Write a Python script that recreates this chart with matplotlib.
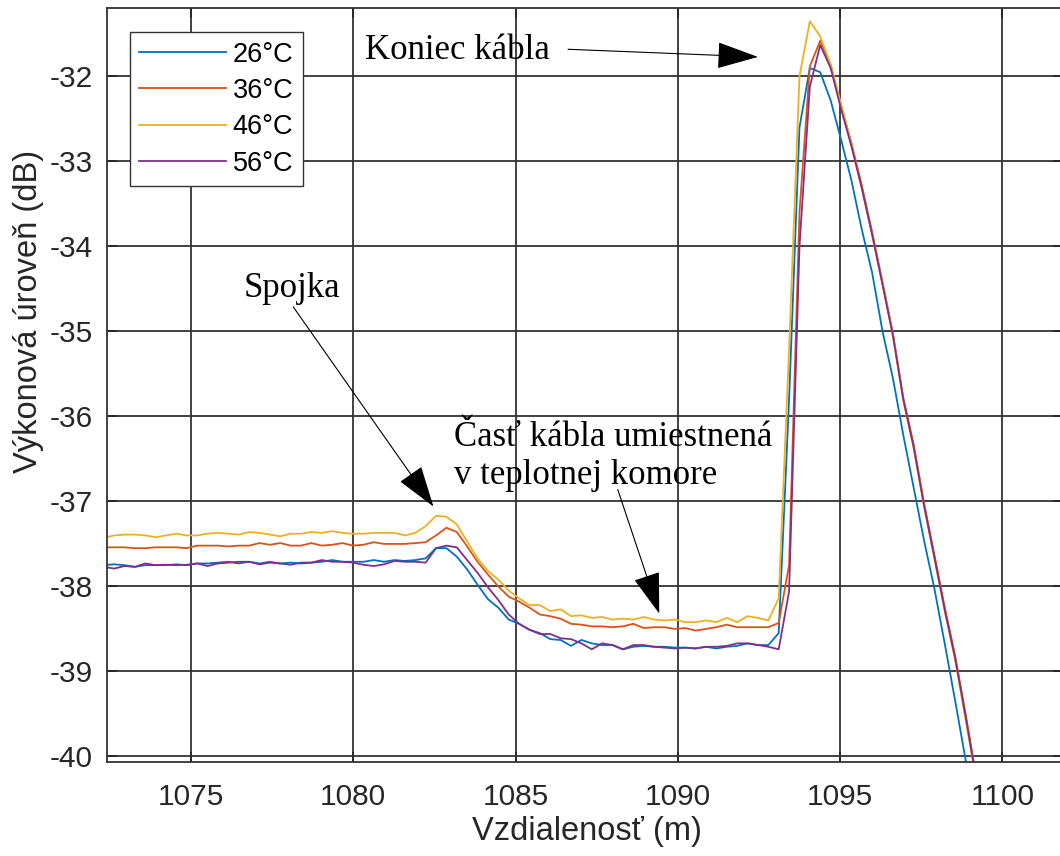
import matplotlib
matplotlib.use("Agg")
import matplotlib.pyplot as plt

plt.rcParams['axes.unicode_minus'] = False
plt.rcParams['font.family'] = ['Liberation Sans', 'DejaVu Sans']

# vzdialenost (m) - vzorky OTDR
dist = [1072.31, 1072.63, 1072.95, 1073.27, 1073.59, 1073.91, 1074.23, 1074.55, 1074.87, 1075.19,
        1075.51, 1075.83, 1076.15, 1076.47, 1076.79, 1077.11, 1077.43, 1077.75, 1078.07, 1078.39,
        1078.71, 1079.03, 1079.35, 1079.67, 1079.99, 1080.31, 1080.63, 1080.95, 1081.27, 1081.59,
        1081.91, 1082.23, 1082.55, 1082.87, 1083.19, 1083.51, 1083.83, 1084.15, 1084.47, 1084.79,
        1085.11, 1085.43, 1085.75, 1086.07, 1086.39, 1086.71, 1087.03, 1087.35, 1087.67, 1087.99,
        1088.31, 1088.63, 1088.95, 1089.27, 1089.59, 1089.91, 1090.23, 1090.55, 1090.87, 1091.19,
        1091.51, 1091.83, 1092.15, 1092.47, 1092.79, 1093.11, 1093.43, 1093.75, 1094.07, 1094.39,
        1094.71, 1095.03, 1095.35, 1095.67, 1095.99, 1096.31, 1096.63, 1096.95, 1097.27, 1097.59,
        1097.91, 1098.23, 1098.55, 1098.87, 1099.19, 1099.51]

p26 = [-37.75, -37.74, -37.75, -37.77, -37.75, -37.75, -37.75, -37.74, -37.75, -37.73,
       -37.73, -37.72, -37.71, -37.73, -37.71, -37.73, -37.71, -37.73, -37.72, -37.73,
       -37.72, -37.71, -37.69, -37.71, -37.71, -37.71, -37.69, -37.71, -37.69, -37.70,
       -37.69,
       -37.67, -37.55, -37.55, -37.65, -37.80, -37.98, -38.15, -38.25, -38.39, -38.44,
       -38.51, -38.55, -38.62, -38.63, -38.70, -38.63, -38.67, -38.69, -38.69, -38.74,
       -38.71, -38.70, -38.71, -38.71, -38.72, -38.72, -38.73, -38.71, -38.73, -38.71,
       -38.70, -38.67, -38.69, -38.69, -38.55,
       -35.80, -32.60, -31.90, -31.95, -32.28, -32.74, -33.22, -33.80, -34.31, -35.00,
       -35.55, -36.22, -36.84, -37.46, -38.03, -38.68, -39.35, -40.04, -40.70, -41.30]

p36 = [-37.54, -37.54, -37.54, -37.55, -37.55, -37.54, -37.54, -37.54, -37.55, -37.52,
       -37.52, -37.52, -37.53, -37.52, -37.52, -37.49, -37.51, -37.49, -37.52, -37.52,
       -37.49, -37.52, -37.51, -37.49, -37.52, -37.51, -37.48, -37.50, -37.50, -37.50,
       -37.49,
       -37.48, -37.40, -37.31, -37.36, -37.53, -37.71, -37.86, -38.00, -38.12, -38.18,
       -38.25, -38.33, -38.35, -38.38, -38.44, -38.45, -38.47, -38.47, -38.48, -38.47,
       -38.44, -38.49, -38.48, -38.48, -38.50, -38.49, -38.52, -38.50, -38.48, -38.45,
       -38.48, -38.48, -38.48, -38.48, -38.43,
       -37.75, -33.60, -31.88, -31.58, -31.86, -32.34, -32.78, -33.28, -33.83, -34.42,
       -35.02, -35.78, -36.33, -37.02, -37.63, -38.25, -38.82, -39.50, -40.22, -40.90]

p46 = [-37.43, -37.40, -37.39, -37.39, -37.40, -37.42, -37.40, -37.38, -37.40, -37.40,
       -37.38, -37.37, -37.38, -37.39, -37.36, -37.37, -37.39, -37.41, -37.38, -37.38,
       -37.36, -37.37, -37.35, -37.37, -37.38, -37.38, -37.37, -37.37, -37.37, -37.40,
       -37.37,
       -37.29, -37.17, -37.18, -37.27, -37.47, -37.67, -37.82, -37.92, -38.05, -38.14,
       -38.22, -38.22, -38.29, -38.27, -38.35, -38.34, -38.37, -38.36, -38.39, -38.38,
       -38.39, -38.36, -38.39, -38.40, -38.39, -38.42, -38.42, -38.40, -38.42, -38.37,
       -38.42, -38.35, -38.37, -38.40, -38.14,
       -35.20, -32.00, -31.35, -31.53, -31.86, -32.32, -32.80, -33.32, -33.87, -34.45,
       -35.05, -35.82, -36.38, -37.06, -37.68, -38.30, -38.87, -39.57, -40.27, -40.90]

p56 = [-37.77, -37.79, -37.76, -37.77, -37.73, -37.75, -37.745, -37.75, -37.745, -37.73,
       -37.76, -37.73, -37.72, -37.71, -37.71, -37.74, -37.72, -37.73, -37.745, -37.72,
       -37.72, -37.69, -37.71, -37.71, -37.72, -37.745, -37.76, -37.74, -37.70, -37.71,
       -37.71,
       -37.72, -37.55, -37.52, -37.54, -37.69, -37.84, -38.01, -38.16, -38.33, -38.44,
       -38.51, -38.56, -38.56, -38.61, -38.62, -38.67, -38.74, -38.67, -38.69, -38.74,
       -38.69, -38.69, -38.71, -38.72, -38.73, -38.72, -38.73, -38.71, -38.71, -38.70,
       -38.67, -38.67, -38.69, -38.71, -38.74,
       -38.06, -34.00, -32.12, -31.63, -31.90, -32.38, -32.82, -33.31, -33.86, -34.45,
       -35.05, -35.80, -36.36, -37.05, -37.66, -38.28, -38.85, -39.53, -40.25, -40.90]

labels = ['26°C', '36°C', '46°C', '56°C']
colors = ['#0072BD', '#D95319', '#EDB120', '#7E2F8E']

fig = plt.figure(figsize=(10.6, 8.56), dpi=100)
ax = fig.add_axes([0.1009, 0.1098, 0.9019, 0.8808])

for y, lab, c in zip([p26, p36, p46, p56], labels, colors):
    ax.plot(dist, y, color=c, lw=1.3, label=lab)

ax.set_xlim(1072.41, 1101.87)
ax.set_ylim(-40.066, -31.195)
ax.set_xticks([1075, 1080, 1085, 1090, 1095, 1100])
ax.set_yticks([-40, -39, -38, -37, -36, -35, -34, -33, -32])

ax.grid(True, color='#333333', lw=1.3)
ax.set_axisbelow(True)
for s in ax.spines.values():
    s.set_color('#333333')
    s.set_linewidth(1.3)
ax.tick_params(direction='in', length=7, width=1.3, colors='#262626', labelsize=21.5,
               top=True, right=True)
ax.tick_params(axis='y', pad=10)
ax.tick_params(axis='x', pad=15)

ax.set_xlabel('Vzdialenosť (m)', fontsize=23.5, color='#262626')
ax.set_ylabel('Výkonová úroveň (dB)', fontsize=23.5, color='#262626')
ax.xaxis.set_label_coords(0.502, -0.072)
ax.yaxis.set_label_coords(-0.066, 0.597)

leg = ax.legend(loc='upper left', bbox_to_anchor=(0.024, 0.968), borderaxespad=0,
                fontsize=19.5, fancybox=False, framealpha=1, edgecolor='#333333',
                handlelength=3.2, handletextpad=0.25, borderpad=0.35, labelspacing=0.38)
leg.get_frame().set_linewidth(1.0)

# popisky so sipkami
serif = ['Liberation Serif', 'DejaVu Serif']
arr = dict(arrowstyle='-|>,head_length=1.33,head_width=0.43', mutation_scale=20,
           fc='black', ec='black', lw=0.8, shrinkA=0, shrinkB=0)

ax.text(1076.63, -34.59, 'Spojka', fontsize=25, family=serif, va='baseline')
ax.annotate('', xy=(1082.47, -37.06), xytext=(1078.15, -34.71), arrowprops=arr)

ax.text(1080.36, -31.80, 'Koniec kábla', fontsize=25, family=serif, va='baseline')
ax.annotate('', xy=(1092.47, -31.77), xytext=(1086.62, -31.68), arrowprops=arr)

ax.text(1083.10, -36.80, 'Časť kábla umiestnená\nv teplotnej komore', fontsize=25,
        family=serif, va='baseline', linespacing=1.2)
ax.annotate('', xy=(1089.43, -38.32), xytext=(1088.15, -36.86), arrowprops=arr)

fig.savefig('out.png', dpi=100)
